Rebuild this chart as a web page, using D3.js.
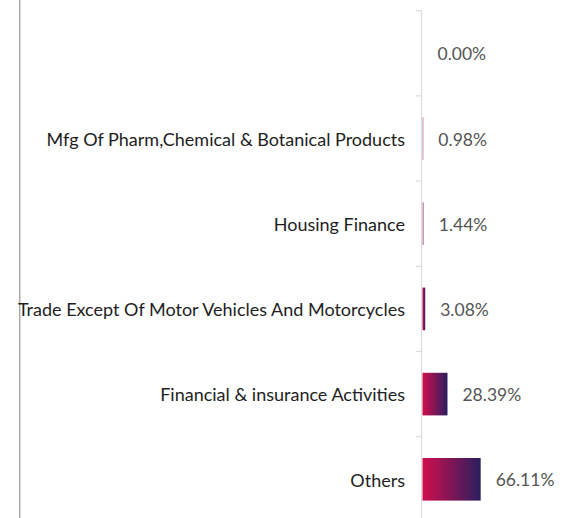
<!DOCTYPE html>
<html>
<head>
<meta charset="utf-8">
<script src="https://cdn.jsdelivr.net/npm/d3@7"></script>
<style>
    html, body {margin: 0; padding: 0; background: white;}
    svg {display: block; font-family: Lato, "Open Sans", sans-serif;}
</style>
</head>
<body>
<div id="chart"></div>
<script>
// data
const categories = ["", "Mfg Of Pharm,Chemical & Botanical Products", "Housing Finance",
    "Trade Except Of Motor Vehicles And Motorcycles", "Financial & insurance Activities", "Others"];
const shares = [0, 0.98, 1.44, 3.08, 28.39, 66.11];
const xMax = 100;

let width = 568, height = 518;
let axisX = 422, plotTop = 10.7, bandStep = 85.2;
let format = d3.format(".2f");

let svg = d3.select("#chart").append("svg")
    .attr("width", width)
    .attr("height", height);

// bar gradient, red -> navy
let grad = svg.append("defs").append("linearGradient")
    .attr("id", "barGrad")
    .attr("x1", "0%").attr("x2", "100%")
    .attr("y1", "0%").attr("y2", "0%");
grad.append("stop").attr("offset", "0%").attr("stop-color", "#d20e4d");
grad.append("stop").attr("offset", "100%").attr("stop-color", "#2a1e5e");

let y = d3.scaleBand()
    .domain(categories)
    .range([plotTop, plotTop + bandStep * categories.length])
    .paddingInner(0.5)
    .paddingOuter(0.25);

let x = d3.scaleLinear()
    .domain([0, xMax])
    .range([0, 88]);

// left border line
svg.append("line")
    .attr("x1", 19.7).attr("x2", 19.7)
    .attr("y1", 0).attr("y2", height)
    .attr("stroke", "#a8a8a8")
    .attr("stroke-width", 1.4);

// axis line + ticks at band edges
svg.append("line")
    .attr("x1", axisX - 0.5).attr("x2", axisX - 0.5)
    .attr("y1", plotTop).attr("y2", height)
    .attr("stroke", "#dcdcdc")
    .attr("stroke-width", 1.2);

svg.selectAll(".tick")
    .data(categories)
    .enter()
    .append("line")
    .attr("class", "tick")
    .attr("x1", axisX - 6).attr("x2", axisX - 0.5)
    .attr("y1", d => y(d) - y.step() * 0.25)
    .attr("y2", d => y(d) - y.step() * 0.25)
    .attr("stroke", "#dcdcdc")
    .attr("stroke-width", 1.2);

let rows = svg.selectAll(".row")
    .data(categories.map((c, i) => ({name: c, value: shares[i]})))
    .enter()
    .append("g")
    .attr("class", "row");

// thin bars look washed out in the original
rows.append("rect")
    .attr("x", axisX + 0.5)
    .attr("y", d => y(d.name))
    .attr("width", d => x(d.value))
    .attr("height", y.bandwidth())
    .attr("fill", "url(#barGrad)")
    .attr("fill-opacity", d => x(d.value) < 2 ? 0.55 : 1);

rows.append("text")
    .attr("x", axisX - 17)
    .attr("y", d => y(d.name) + y.bandwidth() / 2)
    .attr("dy", "0.4em")
    .attr("text-anchor", "end")
    .style("font-size", "18px")
    .style("fill", "#1e1e1e")
    .text(d => d.name);

rows.append("text")
    .attr("x", d => axisX + 0.5 + x(d.value) + 15)
    .attr("y", d => y(d.name) + y.bandwidth() / 2)
    .attr("dy", "0.4em")
    .style("font-size", "17.5px")
    .style("fill", "#555")
    .text(d => format(d.value) + "%");
</script>
</body>
</html>
